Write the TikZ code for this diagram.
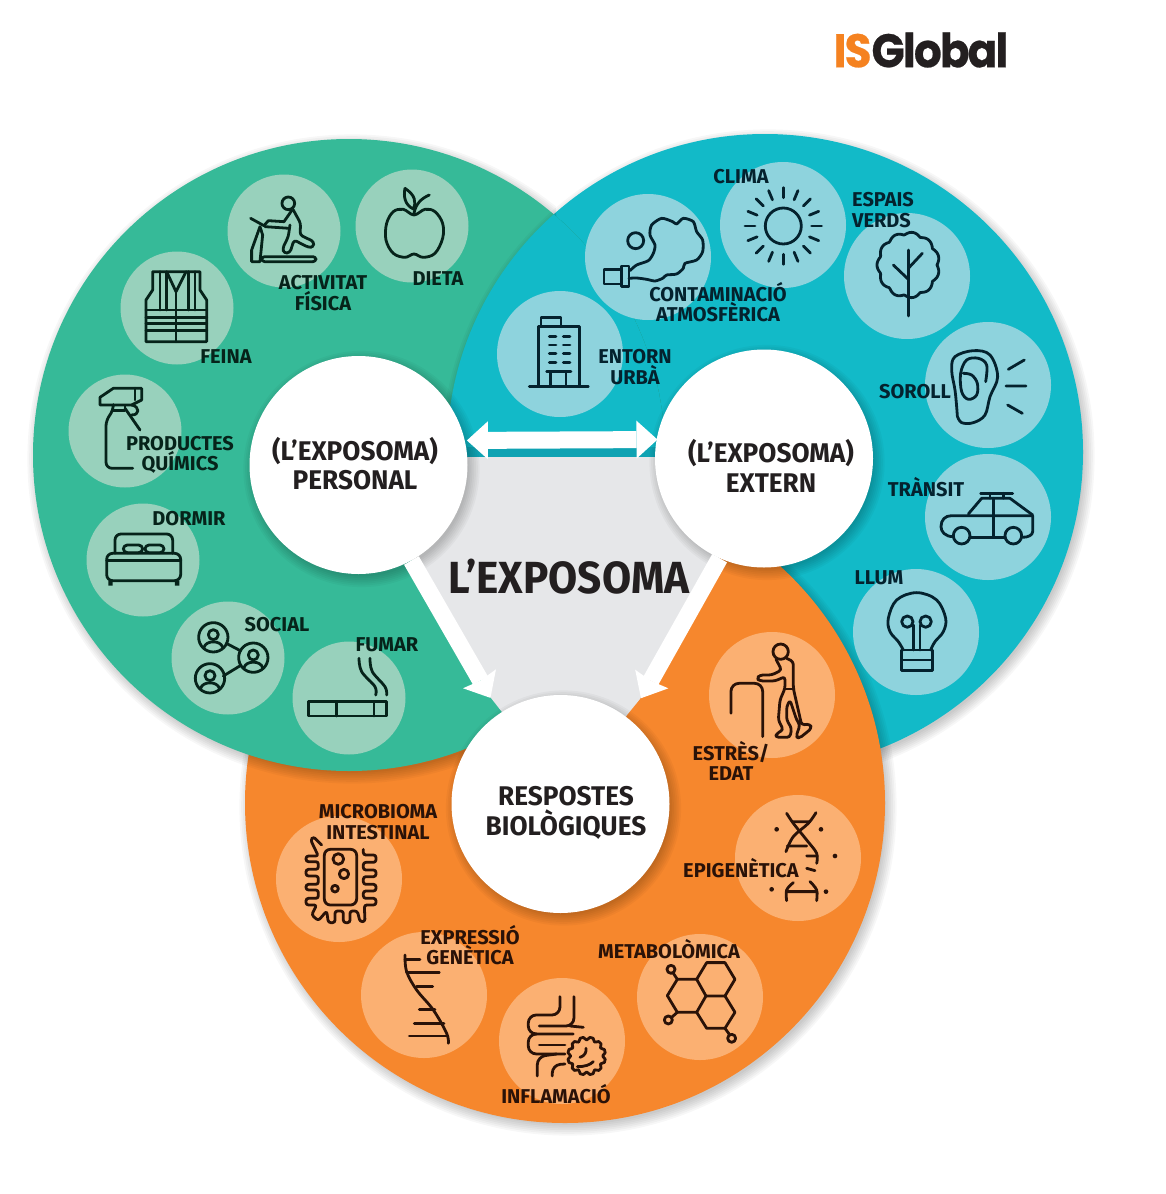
\documentclass[tikz,border=0pt]{standalone}
\usepackage{fontspec}
\setmainfont{Fira Sans}
\newfontfamily\logofont{Poppins}[LetterSpace=-4,FakeStretch=.93,BoldFeatures={FakeBold=.5}]
\newfontfamily\titlefont{Fira Sans}[FakeStretch=.94]
\newfontfamily\hubfont{Fira Sans}[FakeStretch=.97]
\usetikzlibrary{arrows.meta}
\definecolor{grn}{HTML}{36BA98}
\definecolor{grnl}{HTML}{98D1BC}
\definecolor{blu}{HTML}{12BAC8}
\definecolor{blul}{HTML}{8ED3DD}
\definecolor{bludk}{HTML}{0FA3B3}
\definecolor{org}{HTML}{F6872D}
\definecolor{orgl}{HTML}{FBB072}
\definecolor{gry}{HTML}{E6E7E9}
\definecolor{inkg}{HTML}{06231A}
\definecolor{inkb}{HTML}{04222E}
\definecolor{inko}{HTML}{2A1208}
\definecolor{inkc}{HTML}{231F20}
\definecolor{isorg}{HTML}{F58220}
\newcommand{\softsh}[3]{\foreach \k in {1,...,7}{\fill[black,opacity=.03] ({#1+3},{#2+4}) circle [radius={#3-4+\k*1.8}];}}
\tikzset{
 ball/.style={circle,inner sep=0pt,minimum size=#1},
 hub/.style={ball=218pt,fill=white},
 lg/.style={ball=113pt,fill=grnl},
 lb/.style={ball=126pt,fill=blul},
 lo/.style={ball=126pt,fill=orgl},
 lab/.style={inner sep=0pt,font=\fontsize{20}{20.5}\selectfont\bfseries,align=center},
 hubtxt/.style={inner sep=0pt,font=\fontsize{27}{29.5}\hubfont\bfseries,align=center,text=inkc},
 ig/.style={draw=inkg,line width=2.8pt,line cap=round,line join=round},
 ib/.style={draw=inkb,line width=2.8pt,line cap=round,line join=round},
 io/.style={draw=inko,line width=2.8pt,line cap=round,line join=round},
 fatarrow/.style={draw=white,line width=17pt,-{Stealth[length=22pt,width=38pt,inset=2pt,line width=0pt,fill=white]}},
 fatboth/.style={draw=white,line width=17pt,{Stealth[length=21pt,width=38pt,inset=0pt,line width=0pt,fill=white]}-{Stealth[length=21pt,width=38pt,inset=0pt,line width=0pt,fill=white]}},
}
\begin{document}
\begin{tikzpicture}[x=1pt,y=-1pt]
\useasboundingbox (0,0) rectangle (1165,1194);
\fill[white] (0,0) rectangle (1165,1194);
% logo
\node[inner sep=0pt,font=\fontsize{47}{47}\logofont\bfseries] (logo) at (921,50) {\textcolor{isorg}{IS}\textcolor{inkc}{Global}};
% big circles
\softsh{765}{452}{318}
\fill[blu] (765,452) circle [radius=318];
\softsh{565}{803}{320}
\fill[org] (565,803) circle [radius=320];
\begin{scope}
\clip (0,0) -- (556,0) -- (556,457) -- (1165,457) -- (1165,1194) -- (0,1194) -- cycle;
\softsh{349}{455}{316}
\end{scope}
\fill[grn] (349,455) circle [radius=316];
\begin{scope}
\clip (349,455) circle [radius=316];
\clip (0,0) rectangle (1165,457);
\softsh{765}{452}{318}
\fill[blu] (765,452) circle [radius=318];
\end{scope}
% centre
\fill[gry] (380,457) -- (760,457) -- (720,558) -- (640,699) -- (627,715) -- (600,760) -- (520,760) -- (502,712) -- (491,698) -- (412,561) -- cycle;
\fill[bludk] (467,447) rectangle (660,457);
% small circles
\node[lg] (cdieta) at (412,226) {};
\node[lg] (cact) at (284,231) {};
\node[lg] (cfeina) at (177,308) {};
\node[lg] (cprod) at (125,431) {};
\node[lg] (cdorm) at (143,560) {};
\node[lg] (csoc) at (228,658) {};
\node[lg] (cfum) at (349,698) {};
\node[lb] (cclima) at (783,225) {};
\node[lb] (ccont) at (648,257) {};
\node[lb] (cent) at (560,354) {};
\node[lb] (cesp) at (907,276) {};
\node[lb] (csor) at (988,385) {};
\node[lb] (ctra) at (988,517) {};
\node[lb] (cllum) at (916,632) {};
\node[lo] (cmic) at (339,879) {};
\node[lo] (cexp) at (424,995) {};
\node[lo] (cinf) at (562,1041) {};
\node[lo] (cmet) at (700,997) {};
\node[lo] (cepi) at (798,858) {};
\node[lo] (cest) at (772,695) {};
% hubs
\softsh{358.5}{465}{109.5}
\softsh{764}{458.5}{109}
\softsh{560.5}{804}{109}
\node[hub] (personal) at (358.5,465) {};
\node[hub] (extern) at (764,458.5) {};
\node[hub] (respostes) at (560.5,804) {};
% arrows
\draw[fatboth,shorten <=2pt,shorten >=-1pt] (personal.13) -- (extern.170);
\draw[fatarrow,shorten >=18pt] (personal.-61) -- (respostes.124);
\draw[fatarrow,shorten >=24pt] (extern.246) -- (respostes.51);
% hub text
\node[hubtxt] (tpers) at (355,463.5) {(L’EXPOSOMA)\\PERSONAL};
\node[hubtxt] (text) at (771,466) {(L’EXPOSOMA)\\EXTERN};
\node[hubtxt] (tresp) at (566,813) {RESPOSTES\\BIOLÒGIQUES};
\node[inner sep=0pt,font=\fontsize{45}{45}\titlefont\bfseries,text=inkc] (tcentre) at (569,577) {L’EXPOSOMA};
% ---------- green icons, upper
\begin{scope}[shift={(60,160)},scale=.3333]
% apple
\draw[ig] plot[smooth cycle,tension=.6] coordinates {(1062,165) (1030,148) (1000,155) (980,190) (978,240) (1000,280) (1035,292) (1062,282) (1090,292) (1125,280) (1148,235) (1148,190) (1125,155) (1095,148)};
\draw[ig] (1035,85) .. controls (1065,105) and (1070,125) .. (1060,147) .. controls (1035,135) and (1030,110) .. (1035,85);
\draw[ig] (1062,160) .. controls (1068,130) and (1085,115) .. (1108,105);
% treadmill
\draw[ig] (685,130) circle [radius=19];
\draw[ig] (572,175) -- (612,197);
\draw[ig] (600,200) -- (575,270) -- (575,305) -- (600,305) -- (608,225) -- cycle;
\draw[ig] (612,197) -- (625,182) -- (672,185) -- (695,152);
\draw[ig] (615,200) -- (688,205);
\draw[ig,rounded corners=3pt] (700,150) -- (722,190) -- (720,225) -- (762,245) -- (760,262) -- (745,262) -- (702,240) -- (690,278) -- (672,280) -- (668,265) -- (685,230) -- (690,195);
\draw[ig,rounded corners=3pt] (605,290) rectangle (768,305);
% vest
\draw[ig] (278,335) -- (420,335) -- (420,390) -- (440,420) -- (440,545) -- (258,545) -- (258,420) -- (278,390) -- cycle;
\draw[ig] (320,335) -- (348,395) -- (378,335);
\draw[ig] (348,395) -- (348,545);
\draw[ig] (300,335) -- (300,450) (320,340) -- (320,450) (385,335) -- (385,450) (405,335) -- (405,450);
\draw[ig] (258,450) -- (440,450) (258,472) -- (440,472) (258,490) -- (440,490) (258,512) -- (440,512);
% spray
\draw[ig] (120,735) -- (120,712) -- (160,685) -- (245,685) -- (245,720) -- (215,735) -- cycle;
\draw[ig] (225,685) -- (225,720);
\draw[ig,rounded corners=6pt] (218,925) -- (138,925) -- (138,780) -- (160,752) -- (160,737);
\draw[ig] (160,752) -- (195,752) -- (195,737);
\draw[ig] (195,745) -- (240,810);
\draw[ig] (215,735) .. controls (240,740) and (240,765) .. (215,765);
\end{scope}
% ---------- green icons, lower
\begin{scope}[shift={(60,490)},scale=.3333]
% bed
\draw[ig,rounded corners=6pt] (165,190) -- (165,132) -- (338,132) -- (338,190);
\draw[ig,rounded corners=4pt] (190,165) rectangle (248,188);
\draw[ig,rounded corners=4pt] (255,165) rectangle (312,188);
\draw[ig,rounded corners=6pt] (140,272) -- (140,190) -- (362,190) -- (362,272) -- cycle;
\draw[ig] (140,212) -- (362,212);
\fill[inkg] (145,272) rectangle (158,287) (345,272) rectangle (358,287);
% social
\foreach \px/\py in {460/442,580/503,450/565}{
 \draw[ig] (\px,\py) circle [radius=44];
 \draw[ig] (\px,{\py-8}) circle [radius=15];
 \draw[ig] ({\px-28},{\py+30}) .. controls ({\px-22},{\py+8}) and ({\px+22},{\py+8}) .. ({\px+28},{\py+30});
}
\draw[ig] (499,460) -- (541,482) (490,558) -- (541,527);
% cigarette
\draw[ig] (745,635) rectangle (980,678);
\draw[ig] (830,635) -- (830,678) (942,635) -- (942,678);
\draw[ig] plot[smooth,tension=.6] coordinates {(897,505) (905,545) (945,590) (947,615)};
\draw[ig] plot[smooth,tension=.6] coordinates {(930,505) (937,545) (975,590) (980,615)};
\end{scope}
% ---------- blue icons
\begin{scope}[shift={(480,150)},scale=.3333]
% sun
\draw[ib] (910,228) circle [radius=54];
\foreach \a in {0,22.5,...,337.5}{
 \draw[ib] ({910+85*cos(\a)},{228+85*sin(\a)}) -- ({910+115*cos(\a)},{228+115*sin(\a)});
}
% smoke
\draw[ib] (467,272) circle [radius=24];
\draw[ib] (372,358) rectangle (425,402);
\draw[ib] (425,348) rectangle (447,410);
\draw[ib] plot[smooth,tension=.45] coordinates {(450,362) (470,345) (505,332) (520,310) (525,285) (510,255) (515,225) (545,205) (578,215) (590,222) (610,205) (640,215) (650,245) (668,270) (668,305) (650,330) (615,340) (610,355) (590,372) (560,375) (548,385) (525,393) (500,388) (470,384) (447,385)};
% building
\draw[ib] (175,708) -- (175,530) -- (298,530) -- (298,708);
\draw[ib] (183,530) -- (183,503) -- (243,503) -- (243,530);
\draw[ib] (148,710) -- (325,710);
\draw[ib] (200,665) -- (273,665) (212,665) -- (212,708) (258,665) -- (258,708);
\foreach \wy in {560,585,610,637}{\draw[ib] (208,\wy) -- (228,\wy) (250,\wy) -- (270,\wy);}
\end{scope}
% tree
\begin{scope}[shift={(840,180)},scale=.3333]
\draw[ib] plot[smooth cycle,domain=0:357,samples=120] ({205+(86+8*abs(sin(5.5*\x)))*cos(\x)},{255+(86+8*abs(sin(5.5*\x)))*sin(\x)*1.05});
\draw[ib] (205,210) -- (205,408);
\draw[ib] (160,255) -- (205,298) (205,265) -- (247,220);
\end{scope}
\begin{scope}[shift={(840,310)},scale=.3333]
% ear
\draw[ib] plot[smooth,tension=.6] coordinates {(352,318) (350,290) (345,240) (335,180) (345,140) (400,122) (450,135) (473,200) (450,260) (435,315) (400,338) (365,338) (352,318)};
\draw[ib] plot[smooth,tension=.6] coordinates {(437,215) (440,165) (415,145) (380,150) (362,190) (365,245) (385,268) (410,255) (412,220) (395,195) (370,190)};
\draw[ib] (505,178) -- (553,150) (498,228) -- (558,228) (503,285) -- (547,310);
% car
\draw[ib] (422,550) -- (518,550) (450,550) -- (450,565) (490,550) -- (490,565);
\draw[ib] (385,612) -- (425,565) -- (510,565) -- (578,615);
\draw[ib] (460,565) -- (460,680);
\draw[ib] (340,680) .. controls (315,680) and (303,665) .. (303,650) .. controls (303,630) and (315,617) .. (335,617) -- (578,617) -- (578,665) .. controls (578,675) and (565,682) .. (548,682);
\draw[ib] (392,682) -- (493,682);
\draw[ib] (365,677) circle [radius=25] (520,677) circle [radius=25];
% bulb
\draw[ib] plot[smooth,tension=.6] coordinates {(190,1020) (175,995) (150,965) (145,925) (170,870) (230,848) (290,870) (317,925) (310,965) (285,995) (272,1020)};
\draw[ib] (185,1020) rectangle (277,1082);
\draw[ib] (185,1050) -- (277,1050);
\draw[ib] (202,935) circle [radius=17] (257,935) circle [radius=17];
\draw[ib] (220,945) -- (220,1020) (240,945) -- (240,1020);
\end{scope}
% ---------- orange icons, left
\begin{scope}[shift={(270,780)},scale=.3333]
% microbe
\draw[io,rounded corners=6pt] (163,208) rectangle (260,375);
\draw[io] (205,237) circle [radius=16] (222,282) circle [radius=14] (195,326) circle [radius=10];
\draw[io,rounded corners=2.5pt] (155,195) -- (130,170) -- (122,180) -- (145,228) -- (108,228) -- (108,245) -- (145,245) -- (145,268) -- (108,268) -- (108,288) -- (145,288) -- (145,313) -- (108,313) -- (108,330) -- (145,330) -- (145,355) -- (108,355) -- (108,375) -- (140,375) -- (125,405) -- (145,422) -- (170,393) -- (175,428) -- (195,428) -- (195,393) -- (220,393) -- (220,428) -- (240,428) -- (240,393) -- (262,393) -- (270,425) -- (285,425) -- (283,375) -- (318,375) -- (318,355) -- (280,355) -- (280,333) -- (318,333) -- (318,313) -- (280,313) -- (280,290) -- (318,290) -- (318,270) -- (280,270) -- (280,247) -- (318,247) -- (318,225) -- (280,225) -- (280,208);
% helix
\draw[io] plot[smooth,tension=.6] coordinates {(405,525) (410,575) (440,630) (490,690) (530,760) (535,790)};
\draw[io] (405,538) -- (450,538) (410,578) -- (508,578) (440,620) -- (488,620) (448,688) -- (495,688) (433,730) -- (522,730) (418,768) -- (530,768);
% intestine
\draw[io,rounded corners=8pt] (870,650) -- (870,705) -- (775,705) -- (775,762) -- (910,762);
\draw[io,rounded corners=8pt] (912,650) -- (912,738) -- (808,738);
\draw[io] (900,738) -- (940,742);
\draw[io,rounded corners=8pt] (800,762) -- (775,762) -- (775,822) -- (885,822);
\draw[io] (808,795) -- (885,795);
\draw[io,rounded corners=8pt] (860,822) -- (802,830) -- (802,888);
\draw[io,rounded corners=8pt] (885,852) -- (847,855) -- (847,888);
\draw[io] plot[smooth cycle,domain=0:350,samples=36,tension=.5] ({950+(48+10*abs(sin(6*\x)))*cos(\x)},{828+(48+10*abs(sin(6*\x)))*sin(\x)});
\draw[io] (930,832) .. controls (945,828) and (950,815) .. (948,805);
\draw[io] (922,860) .. controls (945,860) and (960,855) .. (970,845);
\end{scope}
% ---------- orange icons, right
\begin{scope}[shift={(590,620)},scale=.3333]
% walker
\draw[io] (572,95) circle [radius=23];
\draw[io,rounded corners=8pt] (423,280) -- (423,190) -- (518,190) -- (518,350);
\draw[io,rounded corners=3pt] (558,118) -- (575,150) -- (545,165) -- (510,165) -- (500,175) -- (510,183) -- (555,183) -- (585,170) -- (585,205) -- (570,240) -- (565,300) -- (580,330) -- (560,340) -- (557,352) -- (600,352) -- (605,325) -- (590,300) -- (590,260) -- (600,240) -- (620,300) -- (630,315) -- (618,350) -- (628,355) -- (665,325) -- (660,312) -- (635,315) -- (610,205) -- (610,125) -- (590,115);
\draw[io] (585,207) -- (612,207);
% dna
\draw[io] plot[smooth,tension=.6] coordinates {(590,580) (610,610) (650,660) (680,700) (680,730)};
\draw[io] plot[smooth,tension=.6] coordinates {(678,578) (655,610) (610,650) (588,695)};
\draw[io] plot[smooth,tension=.6] coordinates {(590,842) (590,810) (610,788)};
\draw[io] plot[smooth,tension=.6] coordinates {(680,842) (680,810) (660,785)};
\draw[io] (610,605) -- (660,605) (592,678) -- (650,678) (650,708) -- (680,708) (590,815) -- (680,815) (650,745) -- (675,752);
\fill[inko] (560,628) circle [radius=7] (693,628) circle [radius=7] (735,708) circle [radius=7] (545,808) circle [radius=7] (708,815) circle [radius=7];
% molecule
\draw[io] (320,1078) -- (350,1028) -- (405,1028) -- (435,1078) -- (405,1128) -- (348,1128) -- cycle;
\draw[io] (320,1078) -- (262,1078) -- (232,1127) -- (262,1177) -- (320,1177) -- (348,1128);
\draw[io] (405,1128) -- (435,1177) -- (405,1225) -- (350,1225) -- (320,1177);
\draw[io] (262,1078) -- (250,1060) (262,1177) -- (245,1192) (405,1225) -- (418,1243);
\draw[io] (243,1048) circle [radius=12] (235,1200) circle [radius=12] (425,1255) circle [radius=12];
\end{scope}
% ---------- labels
\node[lab,text=inkg] (ldieta) at (438,279) {DIETA};
\node[lab,text=inkg] (lact) at (323,293) {ACTIVITAT\\FÍSICA};
\node[lab,text=inkg] (lfeina) at (226,357) {FEINA};
\node[lab,text=inkg] (lprod) at (180,455) {PRODUCTES\\QUÍMICS};
\node[lab,text=inkg] (ldorm) at (189,519) {DORMIR};
\node[lab,text=inkg] (lsoc) at (277,625) {SOCIAL};
\node[lab,text=inkg] (lfum) at (387,645) {FUMAR};
\node[lab,text=inkb] (lclima) at (741,177) {CLIMA};
\node[lab,text=inkb] (lcont) at (718,302) {CONTAMINACIÓ\\ATMOSFÈRICA};
\node[lab,text=inkb] (lent) at (635,367) {ENTORN\\URBÀ};
\node[lab,text=inkb,align=left] (lesp) at (883,210) {ESPAIS\\VERDS};
\node[lab,text=inkb] (lsor) at (915,392) {SOROLL};
\node[lab,text=inkb] (ltra) at (926,487) {TRÀNSIT};
\node[lab,text=inkb] (lllum) at (879,578) {LLUM};
\node[lab,text=inko] (lmic) at (378,822) {MICROBIOMA\\INTESTINAL};
\node[lab,text=inko] (lexp) at (470,945) {EXPRESSIÓ\\GENÈTICA};
\node[lab,text=inko] (linf) at (556,1094) {INFLAMACIÓ};
\node[lab,text=inko] (lmet) at (669,949) {METABOLÒMICA};
\node[lab,text=inko] (lepi) at (741,868) {EPIGENÈTICA};
\node[lab,text=inko] (lest) at (731,761) {ESTRÈS/\\EDAT};
\end{tikzpicture}
\end{document}
